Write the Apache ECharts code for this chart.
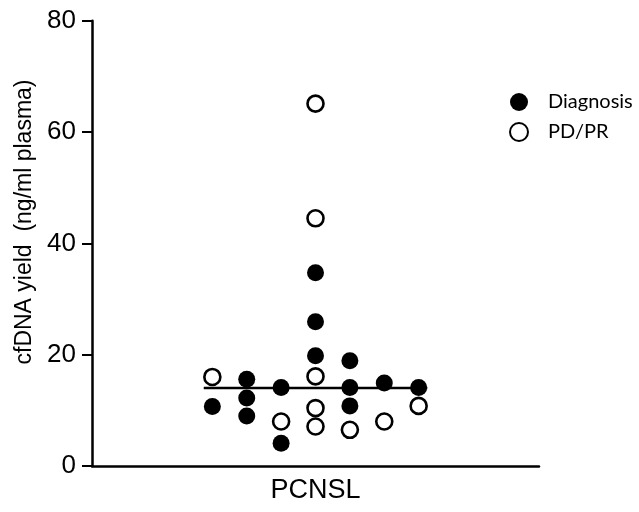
<!DOCTYPE html>
<html>
<head>
<meta charset="utf-8">
<script src="https://cdn.jsdelivr.net/npm/echarts@6/dist/echarts.min.js"></script>
<style>html,body{margin:0;padding:0;background:#fff;}#c{width:639px;height:512px;}</style>
</head>
<body>
<div id="c"></div>
<script>
// Data (x = jitter column, y = cfDNA yield ng/ml plasma)
var category = ['PCNSL'];
var diagX = [-3, -2, -2, -2, -1, -1, 0, 0, 0, 1, 1, 1, 2, 3];
var diagY = [10.7, 15.6, 12.2, 9.0, 14.1, 4.1, 34.7, 25.9, 19.8, 18.9, 14.1, 10.8, 14.9, 14.1];
var pdX = [-3, -1, 0, 0, 0, 0, 0, 1, 2, 3];
var pdY = [16.0, 8.0, 65.1, 44.5, 16.1, 10.4, 7.1, 6.5, 8.0, 10.8];
var medianValue = 14.0;
var medianX = [-3.25, 3.25];
var yTicks = [0, 20, 40, 60, 80];

function pairs(xs, ys) { return xs.map(function (x, i) { return [x, ys[i]]; }); }

var chart = echarts.init(document.getElementById('c'));
var font = 'Liberation Sans, Arial, sans-serif';
chart.setOption({
  animation: false,
  backgroundColor: '#fff',
  grid: { left: 92, right: 100, top: 20.7, bottom: 46, containLabel: false },
  legend: {
    orient: 'vertical', left: 504, top: 87, itemWidth: 18, itemHeight: 18, itemGap: 10,
    icon: 'circle',
    textStyle: { fontFamily: 'Lato, Noto Sans, sans-serif', fontSize: 20, color: '#000', padding: [0, 0, 0, 15] },
    data: ['Diagnosis', 'PD/PR']
  },
  xAxis: [{
    type: 'category', data: category, gridIndex: 0,
    axisLine: { lineStyle: { color: '#000', width: 2.5 } },
    axisTick: { alignWithLabel: true, length: 9, lineStyle: { color: '#000', width: 2 } },
    axisLabel: { color: '#000', fontSize: 27, fontFamily: font, margin: 11 },
    splitLine: { show: false }
  }, {
    type: 'value', min: -6.5, max: 6.5, show: false, gridIndex: 0,
    axisLine: { onZero: false }
  }],
  yAxis: {
    type: 'value', min: 0, max: 80, interval: 20, position: 'left',
    axisLine: { show: true, onZero: false, lineStyle: { color: '#000', width: 2.5 } },
    axisTick: { show: true, length: 10, lineStyle: { color: '#000', width: 2 } },
    axisLabel: { color: '#000', fontSize: 26, fontFamily: font, margin: 16,
      formatter: function (v) { return yTicks.indexOf(v) >= 0 ? String(v) : ''; } },
    splitLine: { show: false }
  },
  graphic: [{
    type: 'text', x: 25, y: 222, rotation: Math.PI / 2,
    style: { text: 'cfDNA yield  (ng/ml plasma)', fontSize: 23, fontFamily: font, fill: '#000',
      textAlign: 'center', textVerticalAlign: 'middle' }
  }],
  series: [{
    name: 'Median', type: 'line', xAxisIndex: 1,
    data: medianX.map(function (x) { return [x, medianValue]; }),
    symbol: 'none', lineStyle: { color: '#000', width: 2.5 }, z: 1
  }, {
    name: 'Diagnosis', type: 'scatter', xAxisIndex: 1,
    data: pairs(diagX, diagY), symbol: 'circle', symbolSize: 17,
    itemStyle: { color: '#000', opacity: 1 }, z: 3
  }, {
    name: 'PD/PR', type: 'scatter', xAxisIndex: 1,
    data: pairs(pdX, pdY), symbol: 'circle', symbolSize: 16,
    itemStyle: { color: '#fff', borderColor: '#000', borderWidth: 2.6, opacity: 1 }, z: 3
  }]
});
</script>
</body>
</html>
